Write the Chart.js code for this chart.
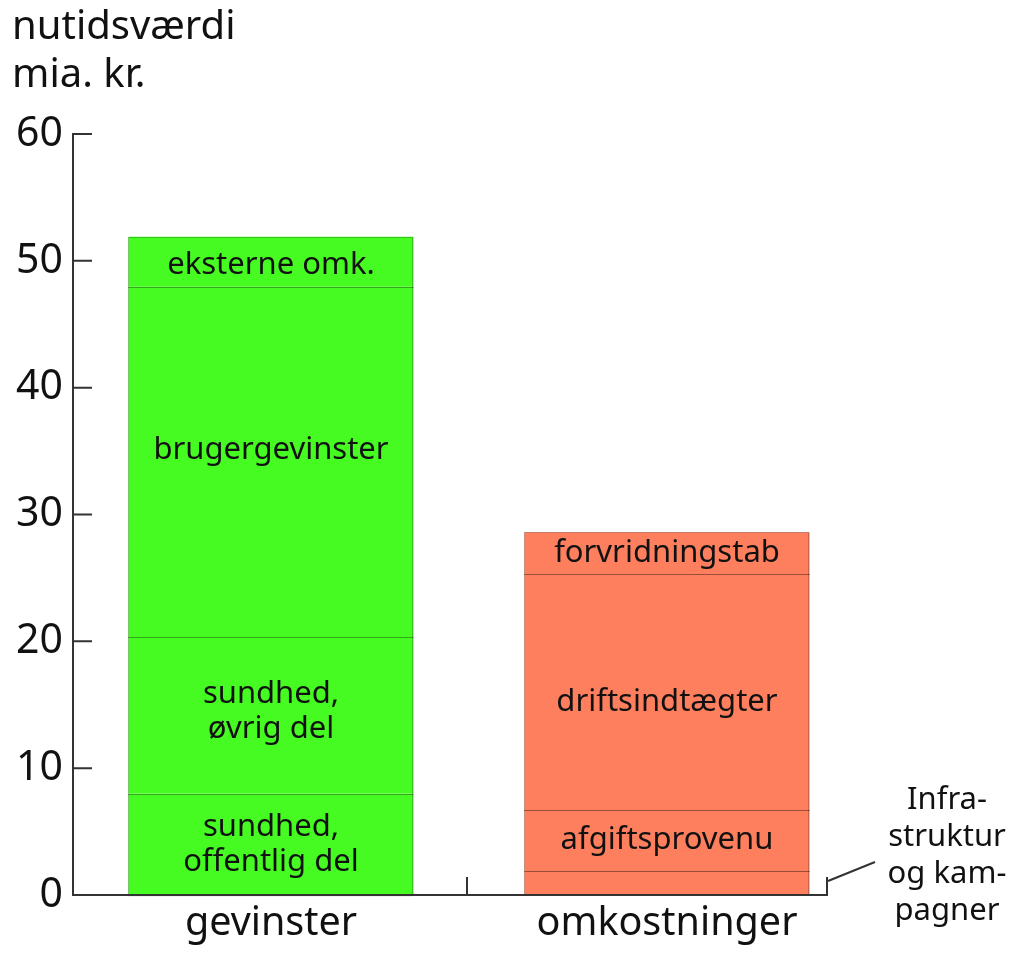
<!DOCTYPE html>
<html><head><meta charset="utf-8">
<script src="https://cdn.jsdelivr.net/npm/chart.js@4.4.1/dist/chart.umd.min.js"></script>
<style>html,body{margin:0;padding:0;background:#fff}#wrap{width:1016px;height:953px}</style>
</head><body><div id="wrap"><canvas id="c" width="1016" height="953"></canvas></div>
<script>
const categories = ['gevinster', 'omkostninger'];
const yTicks = [0, 10, 20, 30, 40, 50, 60];
// stacked segments, bottom to top (value for gevinster, value for omkostninger)
const seg1 = [8.0, 1.9];
const seg2 = [12.35, 4.8];
const seg3 = [27.6, 18.6];
const seg4 = [3.95, 3.3];
const seg1Labels = [['sundhed,', 'offentlig del'], null];
const seg2Labels = [['sundhed,', 'øvrig del'], ['afgiftsprovenu']];
const seg3Labels = [['brugergevinster'], ['driftsindtægter']];
const seg4Labels = [['eksterne omk.'], ['forvridningstab']];
const outsideLabel = ['Infra-', 'struktur', 'og kam-', 'pagner'];
const yTitle = ['nutidsværdi', 'mia. kr.'];

const FONT = '"Noto Sans", "Open Sans", sans-serif';
const barColors = ['#46FB22', '#FE7F5E'];
const sepColors = ['#33a81c', '#9a4e3a'];
const labelShift = [[0, 0], [-4, 0], [-12, 10], [3, 0]];

const segLabelSets = [seg1Labels, seg2Labels, seg3Labels, seg4Labels];
const datasets = [seg1, seg2, seg3, seg4].map((d, i) => ({
  data: d,
  backgroundColor: barColors,
  borderWidth: 0,
  barPercentage: 0.72,
  categoryPercentage: 1
}));

const deco = {
  id: 'deco',
  afterDatasetsDraw(chart) {
    const ctx = chart.ctx;
    const y = chart.scales.y, x = chart.scales.x;
    const area = chart.chartArea;
    const y0 = y.getPixelForValue(0);
    ctx.save();
    // separators between segments
    ctx.lineWidth = 1;
    for (let di = 1; di < 4; di++) {
      chart.getDatasetMeta(di).data.forEach((el, ci) => {
        const p = el.getProps(['x', 'base', 'width'], true);
        const yy = Math.round(p.base) + 0.5;
        ctx.strokeStyle = sepColors[ci];
        ctx.beginPath();
        ctx.moveTo(p.x - p.width / 2, yy); ctx.lineTo(p.x + p.width / 2, yy);
        ctx.stroke();
      });
    }
    // outer outline of bars
    ctx.strokeStyle = 'rgba(0,0,0,0.22)';
    chart.getDatasetMeta(3).data.forEach(el => {
      const p = el.getProps(['x', 'y', 'width'], true);
      ctx.strokeRect(Math.round(p.x - p.width / 2) + 0.5, Math.round(p.y) + 0.5, Math.round(p.width) - 1, y0 - p.y);
    });
    // axes
    ctx.strokeStyle = '#333';
    ctx.lineWidth = 2;
    const xEnd = 827;
    ctx.beginPath();
    ctx.moveTo(area.left, y0); ctx.lineTo(xEnd + 1, y0);
    ctx.moveTo(xEnd, y0); ctx.lineTo(xEnd, y0 - 18);
    const mid = (x.getPixelForValue(0) + x.getPixelForValue(1)) / 2 - 2;
    ctx.moveTo(mid, y0); ctx.lineTo(mid, y0 - 18);
    yTicks.forEach(v => {
      const py = y.getPixelForValue(v);
      ctx.moveTo(area.left, py); ctx.lineTo(area.left + 19, py);
    });
    ctx.stroke();
    // segment labels
    ctx.fillStyle = '#111';
    ctx.textAlign = 'center';
    ctx.textBaseline = 'middle';
    ctx.font = '31px ' + FONT;
    segLabelSets.forEach((set, di) => {
      const meta = chart.getDatasetMeta(di);
      meta.data.forEach((el, ci) => {
        const lines = set[ci];
        if (!lines) return;
        const p = el.getProps(['x', 'y', 'base'], true);
        const cy = (p.y + p.base) / 2 + labelShift[di][ci];
        const lh = 35;
        lines.forEach((t, li) => {
          ctx.fillText(t, p.x, cy + (li - (lines.length - 1) / 2) * lh);
        });
      });
    });
    // outside label with leader line
    ctx.strokeStyle = '#333';
    ctx.lineWidth = 2;
    ctx.beginPath();
    ctx.moveTo(828, 881); ctx.lineTo(875, 862);
    ctx.stroke();
    ctx.font = '31px ' + FONT;
    outsideLabel.forEach((t, i) => ctx.fillText(t, 947, 800 + i * 37));
    // y title
    ctx.textAlign = 'left';
    ctx.textBaseline = 'alphabetic';
    ctx.font = '40px ' + FONT;
    ctx.fillText(yTitle[0], 12, 39);
    ctx.fillText(yTitle[1], 12, 87);
    ctx.restore();
  }
};

new Chart(document.getElementById('c'), {
  type: 'bar',
  data: {labels: categories, datasets},
  options: {
    responsive: false,
    animation: false,
    events: [],
    layout: {padding: {left: 0, top: 134, right: 151, bottom: 0}},
    plugins: {legend: {display: false}, tooltip: {enabled: false}, title: {display: false}},
    scales: {
      x: {
        stacked: true,
        grid: {display: false, drawTicks: false},
        border: {display: false},
        ticks: {font: {family: FONT, size: 39.5}, color: '#111', padding: 5},
        afterFit: s => { s.height = 58; }
      },
      y: {
        stacked: true,
        min: 0, max: 60,
        afterBuildTicks: s => { s.ticks = yTicks.map(v => ({value: v})); },
        grid: {display: false, drawTicks: false},
        border: {display: true, color: '#333', width: 2},
        ticks: {font: {family: FONT, size: 41}, color: '#111', padding: 10},
        afterFit: s => { s.width = 73; }
      }
    }
  },
  plugins: [deco]
});
</script></body></html>
